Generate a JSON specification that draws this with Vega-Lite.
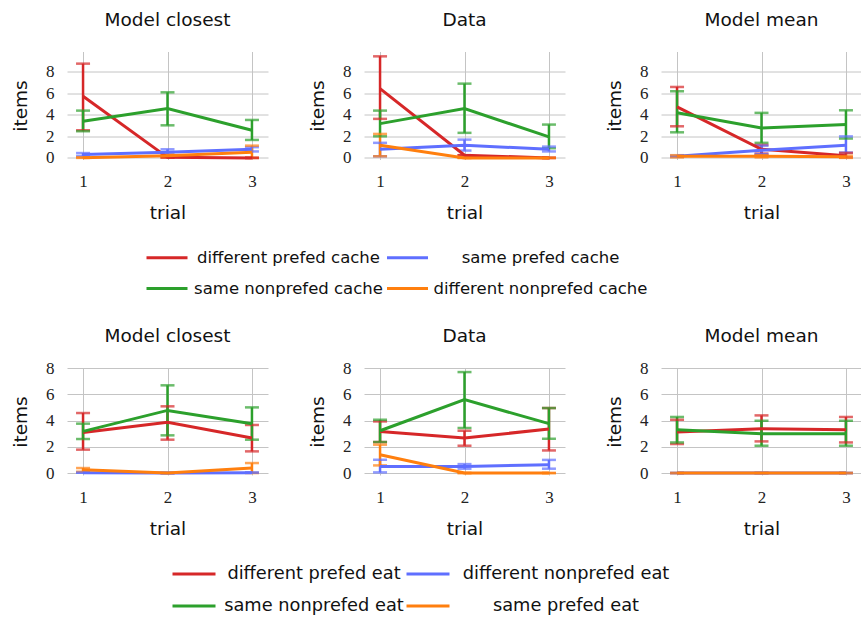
{
  "$schema": "https://vega.github.io/schema/vega-lite/v6.json",
  "padding": {"left": 11, "top": 10.5, "right": 0, "bottom": 0},
  "autosize": {"type": "pad"},
  "background": "white",
  "datasets": {
    "all": [
      {"block": "cache", "panel": "Model closest", "series": "different prefed cache", "trial": 1, "mean": 5.73, "lo": 2.57, "hi": 8.77},
      {"block": "cache", "panel": "Model closest", "series": "different prefed cache", "trial": 2, "mean": 0.05, "lo": 0.05, "hi": 0.05},
      {"block": "cache", "panel": "Model closest", "series": "different prefed cache", "trial": 3, "mean": 0.0, "lo": 0.0, "hi": 0.0},
      {"block": "cache", "panel": "Model closest", "series": "same prefed cache", "trial": 1, "mean": 0.31, "lo": 0.17, "hi": 0.45},
      {"block": "cache", "panel": "Model closest", "series": "same prefed cache", "trial": 2, "mean": 0.52, "lo": 0.25, "hi": 0.8},
      {"block": "cache", "panel": "Model closest", "series": "same prefed cache", "trial": 3, "mean": 0.8, "lo": 0.6, "hi": 1.0},
      {"block": "cache", "panel": "Model closest", "series": "same nonprefed cache", "trial": 1, "mean": 3.41, "lo": 2.48, "hi": 4.4},
      {"block": "cache", "panel": "Model closest", "series": "same nonprefed cache", "trial": 2, "mean": 4.59, "lo": 3.03, "hi": 6.1},
      {"block": "cache", "panel": "Model closest", "series": "same nonprefed cache", "trial": 3, "mean": 2.57, "lo": 1.67, "hi": 3.53},
      {"block": "cache", "panel": "Model closest", "series": "different nonprefed cache", "trial": 1, "mean": 0.02, "lo": 0.0, "hi": 0.05},
      {"block": "cache", "panel": "Model closest", "series": "different nonprefed cache", "trial": 2, "mean": 0.21, "lo": 0.05, "hi": 0.35},
      {"block": "cache", "panel": "Model closest", "series": "different nonprefed cache", "trial": 3, "mean": 0.52, "lo": 0.0, "hi": 1.14},

      {"block": "cache", "panel": "Data", "series": "different prefed cache", "trial": 1, "mean": 6.45, "lo": 3.63, "hi": 9.45},
      {"block": "cache", "panel": "Data", "series": "different prefed cache", "trial": 2, "mean": 0.25, "lo": 0.25, "hi": 0.25},
      {"block": "cache", "panel": "Data", "series": "different prefed cache", "trial": 3, "mean": 0.0, "lo": 0.0, "hi": 0.0},
      {"block": "cache", "panel": "Data", "series": "same prefed cache", "trial": 1, "mean": 0.8, "lo": 0.15, "hi": 1.4},
      {"block": "cache", "panel": "Data", "series": "same prefed cache", "trial": 2, "mean": 1.17, "lo": 0.68, "hi": 1.7},
      {"block": "cache", "panel": "Data", "series": "same prefed cache", "trial": 3, "mean": 0.8, "lo": 0.6, "hi": 1.05},
      {"block": "cache", "panel": "Data", "series": "same nonprefed cache", "trial": 1, "mean": 3.19, "lo": 2.01, "hi": 4.4},
      {"block": "cache", "panel": "Data", "series": "same nonprefed cache", "trial": 2, "mean": 4.59, "lo": 2.33, "hi": 6.91},
      {"block": "cache", "panel": "Data", "series": "same nonprefed cache", "trial": 3, "mean": 1.95, "lo": 0.9, "hi": 3.1},
      {"block": "cache", "panel": "Data", "series": "different nonprefed cache", "trial": 1, "mean": 1.17, "lo": 0.15, "hi": 2.23},
      {"block": "cache", "panel": "Data", "series": "different nonprefed cache", "trial": 2, "mean": 0.0, "lo": 0.0, "hi": 0.0},
      {"block": "cache", "panel": "Data", "series": "different nonprefed cache", "trial": 3, "mean": 0.0, "lo": 0.0, "hi": 0.0},

      {"block": "cache", "panel": "Model mean", "series": "different prefed cache", "trial": 1, "mean": 4.74, "lo": 2.94, "hi": 6.6},
      {"block": "cache", "panel": "Model mean", "series": "different prefed cache", "trial": 2, "mean": 0.8, "lo": 0.4, "hi": 1.2},
      {"block": "cache", "panel": "Model mean", "series": "different prefed cache", "trial": 3, "mean": 0.21, "lo": 0.05, "hi": 0.46},
      {"block": "cache", "panel": "Model mean", "series": "same prefed cache", "trial": 1, "mean": 0.15, "lo": 0.1, "hi": 0.2},
      {"block": "cache", "panel": "Model mean", "series": "same prefed cache", "trial": 2, "mean": 0.71, "lo": 0.35, "hi": 1.14},
      {"block": "cache", "panel": "Model mean", "series": "same prefed cache", "trial": 3, "mean": 1.17, "lo": 0.5, "hi": 2.0},
      {"block": "cache", "panel": "Model mean", "series": "same nonprefed cache", "trial": 1, "mean": 4.2, "lo": 2.38, "hi": 6.2},
      {"block": "cache", "panel": "Model mean", "series": "same nonprefed cache", "trial": 2, "mean": 2.79, "lo": 1.4, "hi": 4.19},
      {"block": "cache", "panel": "Model mean", "series": "same nonprefed cache", "trial": 3, "mean": 3.1, "lo": 1.8, "hi": 4.43},
      {"block": "cache", "panel": "Model mean", "series": "different nonprefed cache", "trial": 1, "mean": 0.15, "lo": 0.05, "hi": 0.25},
      {"block": "cache", "panel": "Model mean", "series": "different nonprefed cache", "trial": 2, "mean": 0.15, "lo": 0.05, "hi": 0.25},
      {"block": "cache", "panel": "Model mean", "series": "different nonprefed cache", "trial": 3, "mean": 0.1, "lo": 0.0, "hi": 0.2},

      {"block": "eat", "panel": "Model closest", "series": "different prefed eat", "trial": 1, "mean": 3.09, "lo": 1.78, "hi": 4.57},
      {"block": "eat", "panel": "Model closest", "series": "different prefed eat", "trial": 2, "mean": 3.86, "lo": 2.54, "hi": 5.08},
      {"block": "eat", "panel": "Model closest", "series": "different prefed eat", "trial": 3, "mean": 2.67, "lo": 1.65, "hi": 3.66},
      {"block": "eat", "panel": "Model closest", "series": "different nonprefed eat", "trial": 1, "mean": 0.03, "lo": 0.03, "hi": 0.03},
      {"block": "eat", "panel": "Model closest", "series": "different nonprefed eat", "trial": 2, "mean": 0.0, "lo": 0.0, "hi": 0.0},
      {"block": "eat", "panel": "Model closest", "series": "different nonprefed eat", "trial": 3, "mean": 0.03, "lo": 0.03, "hi": 0.03},
      {"block": "eat", "panel": "Model closest", "series": "same nonprefed eat", "trial": 1, "mean": 3.17, "lo": 2.59, "hi": 3.76},
      {"block": "eat", "panel": "Model closest", "series": "same nonprefed eat", "trial": 2, "mean": 4.77, "lo": 2.87, "hi": 6.68},
      {"block": "eat", "panel": "Model closest", "series": "same nonprefed eat", "trial": 3, "mean": 3.76, "lo": 2.54, "hi": 5.0},
      {"block": "eat", "panel": "Model closest", "series": "same prefed eat", "trial": 1, "mean": 0.25, "lo": 0.1, "hi": 0.38},
      {"block": "eat", "panel": "Model closest", "series": "same prefed eat", "trial": 2, "mean": 0.0, "lo": 0.0, "hi": 0.0},
      {"block": "eat", "panel": "Model closest", "series": "same prefed eat", "trial": 3, "mean": 0.38, "lo": 0.0, "hi": 0.76},

      {"block": "eat", "panel": "Data", "series": "different prefed eat", "trial": 1, "mean": 3.17, "lo": 2.36, "hi": 3.93},
      {"block": "eat", "panel": "Data", "series": "different prefed eat", "trial": 2, "mean": 2.67, "lo": 2.08, "hi": 3.22},
      {"block": "eat", "panel": "Data", "series": "different prefed eat", "trial": 3, "mean": 3.35, "lo": 1.72, "hi": 4.95},
      {"block": "eat", "panel": "Data", "series": "different nonprefed eat", "trial": 1, "mean": 0.5, "lo": 0.05, "hi": 1.01},
      {"block": "eat", "panel": "Data", "series": "different nonprefed eat", "trial": 2, "mean": 0.5, "lo": 0.33, "hi": 0.68},
      {"block": "eat", "panel": "Data", "series": "different nonprefed eat", "trial": 3, "mean": 0.63, "lo": 0.33, "hi": 1.0},
      {"block": "eat", "panel": "Data", "series": "same nonprefed eat", "trial": 1, "mean": 3.22, "lo": 2.36, "hi": 4.06},
      {"block": "eat", "panel": "Data", "series": "same nonprefed eat", "trial": 2, "mean": 5.59, "lo": 3.43, "hi": 7.69},
      {"block": "eat", "panel": "Data", "series": "same nonprefed eat", "trial": 3, "mean": 3.76, "lo": 2.61, "hi": 4.95},
      {"block": "eat", "panel": "Data", "series": "same prefed eat", "trial": 1, "mean": 1.39, "lo": 0.58, "hi": 2.16},
      {"block": "eat", "panel": "Data", "series": "same prefed eat", "trial": 2, "mean": 0.0, "lo": 0.0, "hi": 0.0},
      {"block": "eat", "panel": "Data", "series": "same prefed eat", "trial": 3, "mean": 0.0, "lo": 0.0, "hi": 0.0},

      {"block": "eat", "panel": "Model mean", "series": "different prefed eat", "trial": 1, "mean": 3.12, "lo": 2.21, "hi": 4.06},
      {"block": "eat", "panel": "Model mean", "series": "different prefed eat", "trial": 2, "mean": 3.38, "lo": 2.41, "hi": 4.39},
      {"block": "eat", "panel": "Model mean", "series": "different prefed eat", "trial": 3, "mean": 3.3, "lo": 2.33, "hi": 4.27},
      {"block": "eat", "panel": "Model mean", "series": "different nonprefed eat", "trial": 1, "mean": 0.0, "lo": 0.0, "hi": 0.0},
      {"block": "eat", "panel": "Model mean", "series": "different nonprefed eat", "trial": 2, "mean": 0.0, "lo": 0.0, "hi": 0.0},
      {"block": "eat", "panel": "Model mean", "series": "different nonprefed eat", "trial": 3, "mean": 0.0, "lo": 0.0, "hi": 0.0},
      {"block": "eat", "panel": "Model mean", "series": "same nonprefed eat", "trial": 1, "mean": 3.3, "lo": 2.33, "hi": 4.27},
      {"block": "eat", "panel": "Model mean", "series": "same nonprefed eat", "trial": 2, "mean": 3.0, "lo": 2.08, "hi": 3.98},
      {"block": "eat", "panel": "Model mean", "series": "same nonprefed eat", "trial": 3, "mean": 3.0, "lo": 2.08, "hi": 3.98},
      {"block": "eat", "panel": "Model mean", "series": "same prefed eat", "trial": 1, "mean": 0.0, "lo": 0.0, "hi": 0.0},
      {"block": "eat", "panel": "Model mean", "series": "same prefed eat", "trial": 2, "mean": 0.0, "lo": 0.0, "hi": 0.0},
      {"block": "eat", "panel": "Model mean", "series": "same prefed eat", "trial": 3, "mean": 0.0, "lo": 0.0, "hi": 0.0}
    ]
  },
  "data": {"name": "all"},
  "spacing": 28.5,
  "resolve": {"scale": {"color": "independent"}, "legend": {"color": "independent"}},
  "vconcat": [
    {
      "bounds": "flush",
      "spacing": 96,
      "resolve": {"scale": {"color": "shared"}, "legend": {"color": "shared"}},
      "hconcat": [
        {
          "title": {"text": "Model closest", "fontSize": 18.5, "offset": 22}, "width": 201, "height": 108,
          "transform": [{"filter": "datum.block === 'cache' && datum.panel === 'Model closest'"}],
          "encoding": {
            "x": {"field": "trial", "type": "quantitative", "title": "trial", "scale": {"domain": [0.81, 3.19], "nice": false, "zero": false}, "axis": {"values": [1, 2, 3], "format": "d"}},
            "color": {"field": "series", "type": "nominal", "scale": {"domain": ["different prefed cache", "same prefed cache", "same nonprefed cache", "different nonprefed cache"], "range": ["#d62728", "#5f6fff", "#2ca02c", "#ff7f0e"]}, "legend": {"orient": "none", "direction": "horizontal", "legendX": 78, "legendY": 184, "columns": 2, "rowPadding": -16, "columnPadding": -2.5, "labelOffset": 99.5, "title": null, "encode": {"labels": {"update": {"dx": {"signal": "datum.index % 2 === 1 ? 11.5 : 0"}}}}}}
          },
          "layer": [
            {"mark": {"type": "rule", "strokeWidth": 2.5}, "encoding": {"y": {"field": "lo", "type": "quantitative", "title": "items", "scale": {"domain": [-0.15, 9.9], "nice": false, "zero": false}, "axis": {"values": [0, 2, 4, 6, 8], "labelOverlap": false}}, "y2": {"field": "hi"}}},
            {"mark": {"type": "tick", "orient": "horizontal", "size": 14, "thickness": 2.5}, "encoding": {"y": {"field": "lo", "type": "quantitative", "title": "items", "axis": {"values": [0, 2, 4, 6, 8], "labelOverlap": false}}}},
            {"mark": {"type": "tick", "orient": "horizontal", "size": 14, "thickness": 2.5}, "encoding": {"y": {"field": "hi", "type": "quantitative", "title": "items", "axis": {"values": [0, 2, 4, 6, 8], "labelOverlap": false}}}},
            {"mark": {"type": "line", "strokeWidth": 3}, "encoding": {"y": {"field": "mean", "type": "quantitative", "title": "items", "axis": {"values": [0, 2, 4, 6, 8], "labelOverlap": false}}}}
          ]
        },
        {
          "title": {"text": "Data", "fontSize": 18.5, "offset": 22}, "width": 201, "height": 108,
          "transform": [{"filter": "datum.block === 'cache' && datum.panel === 'Data'"}],
          "encoding": {
            "x": {"field": "trial", "type": "quantitative", "title": "trial", "scale": {"domain": [0.81, 3.19], "nice": false, "zero": false}, "axis": {"values": [1, 2, 3], "format": "d"}},
            "color": {"field": "series", "type": "nominal", "scale": {"domain": ["different prefed cache", "same prefed cache", "same nonprefed cache", "different nonprefed cache"], "range": ["#d62728", "#5f6fff", "#2ca02c", "#ff7f0e"]}, "legend": {"orient": "none", "direction": "horizontal", "legendX": 78, "legendY": 184, "columns": 2, "rowPadding": -16, "columnPadding": -2.5, "labelOffset": 99.5, "title": null, "encode": {"labels": {"update": {"dx": {"signal": "datum.index % 2 === 1 ? 11.5 : 0"}}}}}}
          },
          "layer": [
            {"mark": {"type": "rule", "strokeWidth": 2.5}, "encoding": {"y": {"field": "lo", "type": "quantitative", "title": "items", "scale": {"domain": [-0.15, 9.9], "nice": false, "zero": false}, "axis": {"values": [0, 2, 4, 6, 8], "labelOverlap": false}}, "y2": {"field": "hi"}}},
            {"mark": {"type": "tick", "orient": "horizontal", "size": 14, "thickness": 2.5}, "encoding": {"y": {"field": "lo", "type": "quantitative", "title": "items", "axis": {"values": [0, 2, 4, 6, 8], "labelOverlap": false}}}},
            {"mark": {"type": "tick", "orient": "horizontal", "size": 14, "thickness": 2.5}, "encoding": {"y": {"field": "hi", "type": "quantitative", "title": "items", "axis": {"values": [0, 2, 4, 6, 8], "labelOverlap": false}}}},
            {"mark": {"type": "line", "strokeWidth": 3}, "encoding": {"y": {"field": "mean", "type": "quantitative", "title": "items", "axis": {"values": [0, 2, 4, 6, 8], "labelOverlap": false}}}}
          ]
        },
        {
          "title": {"text": "Model mean", "fontSize": 18.5, "offset": 22}, "width": 201, "height": 108,
          "transform": [{"filter": "datum.block === 'cache' && datum.panel === 'Model mean'"}],
          "encoding": {
            "x": {"field": "trial", "type": "quantitative", "title": "trial", "scale": {"domain": [0.81, 3.19], "nice": false, "zero": false}, "axis": {"values": [1, 2, 3], "format": "d"}},
            "color": {"field": "series", "type": "nominal", "scale": {"domain": ["different prefed cache", "same prefed cache", "same nonprefed cache", "different nonprefed cache"], "range": ["#d62728", "#5f6fff", "#2ca02c", "#ff7f0e"]}, "legend": {"orient": "none", "direction": "horizontal", "legendX": 78, "legendY": 184, "columns": 2, "rowPadding": -16, "columnPadding": -2.5, "labelOffset": 99.5, "title": null, "encode": {"labels": {"update": {"dx": {"signal": "datum.index % 2 === 1 ? 11.5 : 0"}}}}}}
          },
          "layer": [
            {"mark": {"type": "rule", "strokeWidth": 2.5}, "encoding": {"y": {"field": "lo", "type": "quantitative", "title": "items", "scale": {"domain": [-0.15, 9.9], "nice": false, "zero": false}, "axis": {"values": [0, 2, 4, 6, 8], "labelOverlap": false}}, "y2": {"field": "hi"}}},
            {"mark": {"type": "tick", "orient": "horizontal", "size": 14, "thickness": 2.5}, "encoding": {"y": {"field": "lo", "type": "quantitative", "title": "items", "axis": {"values": [0, 2, 4, 6, 8], "labelOverlap": false}}}},
            {"mark": {"type": "tick", "orient": "horizontal", "size": 14, "thickness": 2.5}, "encoding": {"y": {"field": "hi", "type": "quantitative", "title": "items", "axis": {"values": [0, 2, 4, 6, 8], "labelOverlap": false}}}},
            {"mark": {"type": "line", "strokeWidth": 3}, "encoding": {"y": {"field": "mean", "type": "quantitative", "title": "items", "axis": {"values": [0, 2, 4, 6, 8], "labelOverlap": false}}}}
          ]
        }
      ]
    },
    {
      "bounds": "flush",
      "spacing": 96,
      "resolve": {"scale": {"color": "shared"}, "legend": {"color": "shared"}},
      "hconcat": [
        {
          "title": {"text": "Model closest", "fontSize": 18.5, "offset": 14}, "width": 201, "height": 107,
          "transform": [{"filter": "datum.block === 'eat' && datum.panel === 'Model closest'"}],
          "encoding": {
            "x": {"field": "trial", "type": "quantitative", "title": "trial", "scale": {"domain": [0.81, 3.19], "nice": false, "zero": false}, "axis": {"values": [1, 2, 3], "format": "d"}},
            "color": {"field": "series", "type": "nominal", "scale": {"domain": ["different prefed eat", "different nonprefed eat", "same nonprefed eat", "same prefed eat"], "range": ["#d62728", "#5f6fff", "#2ca02c", "#ff7f0e"]}, "legend": {"orient": "none", "direction": "horizontal", "legendX": 104, "legendY": 183, "columns": 2, "rowPadding": -18, "columnPadding": -4, "labelOffset": 97, "labelFontSize": 17.8, "symbolSize": 1849, "title": null, "encode": {"labels": {"update": {"dx": {"signal": "datum.index % 2 === 1 ? 18 : 0"}}}}}}
          },
          "layer": [
            {"mark": {"type": "rule", "strokeWidth": 2.5}, "encoding": {"y": {"field": "lo", "type": "quantitative", "title": "items", "scale": {"domain": [-0.15, 8], "nice": false, "zero": false}, "axis": {"values": [0, 2, 4, 6, 8], "labelOverlap": false}}, "y2": {"field": "hi"}}},
            {"mark": {"type": "tick", "orient": "horizontal", "size": 14, "thickness": 2.5}, "encoding": {"y": {"field": "lo", "type": "quantitative", "title": "items", "axis": {"values": [0, 2, 4, 6, 8], "labelOverlap": false}}}},
            {"mark": {"type": "tick", "orient": "horizontal", "size": 14, "thickness": 2.5}, "encoding": {"y": {"field": "hi", "type": "quantitative", "title": "items", "axis": {"values": [0, 2, 4, 6, 8], "labelOverlap": false}}}},
            {"mark": {"type": "line", "strokeWidth": 3}, "encoding": {"y": {"field": "mean", "type": "quantitative", "title": "items", "axis": {"values": [0, 2, 4, 6, 8], "labelOverlap": false}}}}
          ]
        },
        {
          "title": {"text": "Data", "fontSize": 18.5, "offset": 14}, "width": 201, "height": 107,
          "transform": [{"filter": "datum.block === 'eat' && datum.panel === 'Data'"}],
          "encoding": {
            "x": {"field": "trial", "type": "quantitative", "title": "trial", "scale": {"domain": [0.81, 3.19], "nice": false, "zero": false}, "axis": {"values": [1, 2, 3], "format": "d"}},
            "color": {"field": "series", "type": "nominal", "scale": {"domain": ["different prefed eat", "different nonprefed eat", "same nonprefed eat", "same prefed eat"], "range": ["#d62728", "#5f6fff", "#2ca02c", "#ff7f0e"]}, "legend": {"orient": "none", "direction": "horizontal", "legendX": 104, "legendY": 183, "columns": 2, "rowPadding": -18, "columnPadding": -4, "labelOffset": 97, "labelFontSize": 17.8, "symbolSize": 1849, "title": null, "encode": {"labels": {"update": {"dx": {"signal": "datum.index % 2 === 1 ? 18 : 0"}}}}}}
          },
          "layer": [
            {"mark": {"type": "rule", "strokeWidth": 2.5}, "encoding": {"y": {"field": "lo", "type": "quantitative", "title": "items", "scale": {"domain": [-0.15, 8], "nice": false, "zero": false}, "axis": {"values": [0, 2, 4, 6, 8], "labelOverlap": false}}, "y2": {"field": "hi"}}},
            {"mark": {"type": "tick", "orient": "horizontal", "size": 14, "thickness": 2.5}, "encoding": {"y": {"field": "lo", "type": "quantitative", "title": "items", "axis": {"values": [0, 2, 4, 6, 8], "labelOverlap": false}}}},
            {"mark": {"type": "tick", "orient": "horizontal", "size": 14, "thickness": 2.5}, "encoding": {"y": {"field": "hi", "type": "quantitative", "title": "items", "axis": {"values": [0, 2, 4, 6, 8], "labelOverlap": false}}}},
            {"mark": {"type": "line", "strokeWidth": 3}, "encoding": {"y": {"field": "mean", "type": "quantitative", "title": "items", "axis": {"values": [0, 2, 4, 6, 8], "labelOverlap": false}}}}
          ]
        },
        {
          "title": {"text": "Model mean", "fontSize": 18.5, "offset": 14}, "width": 201, "height": 107,
          "transform": [{"filter": "datum.block === 'eat' && datum.panel === 'Model mean'"}],
          "encoding": {
            "x": {"field": "trial", "type": "quantitative", "title": "trial", "scale": {"domain": [0.81, 3.19], "nice": false, "zero": false}, "axis": {"values": [1, 2, 3], "format": "d"}},
            "color": {"field": "series", "type": "nominal", "scale": {"domain": ["different prefed eat", "different nonprefed eat", "same nonprefed eat", "same prefed eat"], "range": ["#d62728", "#5f6fff", "#2ca02c", "#ff7f0e"]}, "legend": {"orient": "none", "direction": "horizontal", "legendX": 104, "legendY": 183, "columns": 2, "rowPadding": -18, "columnPadding": -4, "labelOffset": 97, "labelFontSize": 17.8, "symbolSize": 1849, "title": null, "encode": {"labels": {"update": {"dx": {"signal": "datum.index % 2 === 1 ? 18 : 0"}}}}}}
          },
          "layer": [
            {"mark": {"type": "rule", "strokeWidth": 2.5}, "encoding": {"y": {"field": "lo", "type": "quantitative", "title": "items", "scale": {"domain": [-0.15, 8], "nice": false, "zero": false}, "axis": {"values": [0, 2, 4, 6, 8], "labelOverlap": false}}, "y2": {"field": "hi"}}},
            {"mark": {"type": "tick", "orient": "horizontal", "size": 14, "thickness": 2.5}, "encoding": {"y": {"field": "lo", "type": "quantitative", "title": "items", "axis": {"values": [0, 2, 4, 6, 8], "labelOverlap": false}}}},
            {"mark": {"type": "tick", "orient": "horizontal", "size": 14, "thickness": 2.5}, "encoding": {"y": {"field": "hi", "type": "quantitative", "title": "items", "axis": {"values": [0, 2, 4, 6, 8], "labelOverlap": false}}}},
            {"mark": {"type": "line", "strokeWidth": 3}, "encoding": {"y": {"field": "mean", "type": "quantitative", "title": "items", "axis": {"values": [0, 2, 4, 6, 8], "labelOverlap": false}}}}
          ]
        }
      ]
    }
  ],
  "config": {
    "view": {"stroke": null},
    "axis": {
      "domain": false, "ticks": false, "grid": true, "gridColor": "#c4c4c4", "gridWidth": 1,
      "labelFont": "Liberation Serif", "labelFontSize": 17, "labelColor": "#222222",
      "titleFont": "DejaVu Sans", "titleFontSize": 18.5, "titleFontWeight": "normal", "titleColor": "#111111"
    },
    "axisX": {"labelPadding": 14, "titlePadding": 14},
    "axisY": {"labelPadding": 13, "titlePadding": 15},
    "title": {"font": "DejaVu Sans", "fontSize": 18.5, "fontWeight": "normal", "color": "#111111", "offset": 22},
    "style": {"group-title": {"font": "DejaVu Sans", "fontSize": 18.5, "fontWeight": "normal"}},
    "legend": {
      "symbolType": "stroke", "symbolSize": 1681, "symbolStrokeWidth": 3,
      "labelFont": "DejaVu Sans", "labelFontSize": 16.5, "labelColor": "#111111",
      "labelAlign": "center", "labelLimit": 400,
      "padding": 0
    }
  }
}
